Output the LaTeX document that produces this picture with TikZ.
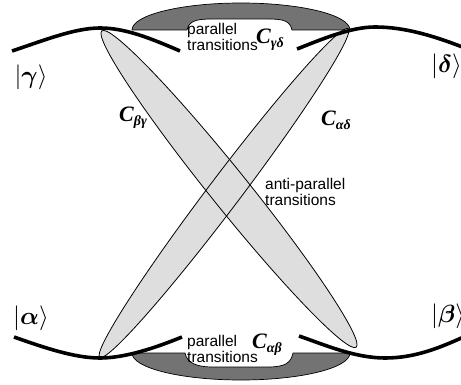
\documentclass[tikz,border=0pt]{standalone}
\usepackage{amsmath,amssymb}
\usepackage{fontspec}
\setmainfont{Liberation Sans}
\newfontfamily\timesfont{Liberation Serif}
\usepackage{tikz}
\usetikzlibrary{positioning}

\newcommand{\coupl}[1]{C\raisebox{-0.4ex}{\fontsize{14}{14}\selectfont #1}}

\begin{document}
\begin{tikzpicture}[x=1pt, y=1pt,
  level/.style={line width=3.6pt},
  band/.style={fill=black!13},
  bandline/.style={draw=black, line width=0.8pt},
  lens/.style={draw=black, line width=0.7pt, fill=black!55},
  lbl/.style={font=\fontsize{15.5}{15.5}\selectfont, align=left, inner sep=0pt},
  ket/.style={font=\fontsize{31}{33}\selectfont, inner sep=0pt},
  coup/.style={font=\fontsize{22}{22}\selectfont\timesfont\bfseries\itshape, inner sep=0pt}
]
\useasboundingbox (0,0) rectangle (461,-385);

% ---- parallel transitions (lenses) ----
\draw[lens] (132,-30) arc[start angle=180, end angle=0, x radius=109, y radius=27]
  -- (292,-30) .. controls (290,-21) and (284,-19) .. (268,-19)
  -- (212,-19) .. controls (196,-19) and (189,-21) .. (187,-30) -- cycle;
\draw[lens] (132,-353) arc[start angle=180, end angle=360, x radius=109, y radius=27]
  -- (293,-353) .. controls (291,-363) and (285,-367) .. (268,-367)
  -- (212,-367) .. controls (197,-367) and (187,-363) .. (185,-353) -- cycle;

% ---- anti-parallel transitions (crossed bands) ----
\fill[band, rotate around={-51.2:(229,-189)}] (229,-189) ellipse (203 and 19);
\fill[band, rotate around={52.9:(224,-193)}] (224,-193) ellipse (206 and 16);
\draw[bandline, rotate around={-51.2:(229,-189)}] (229,-189) ellipse (203 and 19);
\draw[bandline, rotate around={52.9:(224,-193)}] (224,-193) ellipse (206 and 16);

% ---- levels ----
\draw[level] (12,-51) .. controls (45,-40) and (75,-28) .. (100,-28)
  .. controls (125,-28) and (150,-38) .. (180,-51);
\draw[level] (297,-49) .. controls (320,-40) and (350,-27) .. (375,-27)
  .. controls (405,-27) and (435,-36) .. (470,-50);
\draw[level] (14,-337) .. controls (45,-348) and (75,-358) .. (100,-358)
  .. controls (125,-358) and (155,-348) .. (182,-337);
\draw[level] (299,-336) .. controls (325,-345) and (355,-358) .. (385,-358)
  .. controls (415,-358) and (440,-348) .. (470,-334);

% ---- states ----
\node[ket] (gam) at (31,-77)  {$|\boldsymbol{\gamma}\rangle$};
\node[ket, anchor=west] (del) at (431,-66) {$|\boldsymbol{\delta}\rangle$};
\node[ket] (alp) at (31,-318) {$|\boldsymbol{\alpha}\rangle$};
\node[ket, anchor=west] (bet) at (431,-316) {$|\boldsymbol{\beta}\rangle$};

% ---- labels ----
\node[lbl, anchor=west] (partop) at (187,-37) {parallel\\transitions};
\node[coup] (cgd) at (270,-40) {\coupl{γδ}};
\node[lbl, anchor=west] (anti) at (265,-192) {anti-parallel\\transitions};
\node[lbl, anchor=west] (parbot) at (187,-349) {parallel\\transitions};
\node[coup] (cab) at (267,-345) {\coupl{αβ}};
\node[coup] (cbg) at (133,-118) {\coupl{βγ}};
\node[coup] (cad) at (336,-120) {\coupl{αδ}};

\end{tikzpicture}
\end{document}
